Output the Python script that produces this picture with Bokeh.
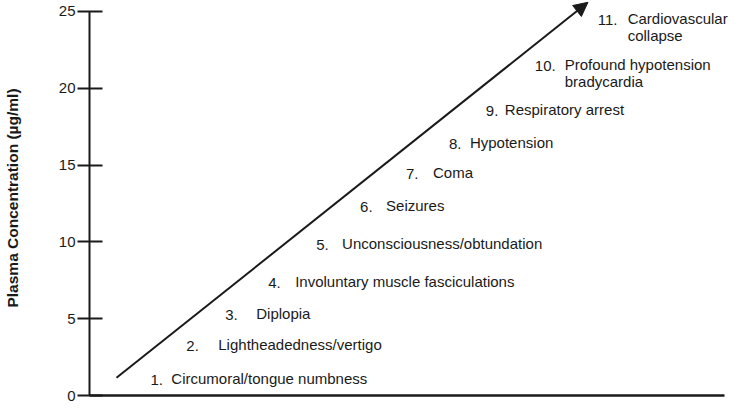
from bokeh.plotting import figure
from bokeh.models import Range1d, FixedTicker, Arrow, NormalHead, ColumnDataSource
from bokeh.core.properties import value
from bokeh.embed import file_html
from bokeh.resources import INLINE

# ---- data ----
y_ticks = [0, 5, 10, 15, 20, 25]
numbers = ["1.", "2.", "3.", "4.", "5.", "6.", "7.", "8.", "9.", "10.", "11."]
symptoms = [
    "Circumoral/tongue numbness",
    "Lightheadedness/vertigo",
    "Diplopia",
    "Involuntary muscle fasciculations",
    "Unconsciousness/obtundation",
    "Seizures",
    "Coma",
    "Hypotension",
    "Respiratory arrest",
    "Profound hypotension\nbradycardia",
    "Cardiovascular\ncollapse",
]
# plasma concentration (ug/ml) at which each label sits (first line)
concentration = [1.15, 3.38, 5.36, 7.46, 9.95, 12.37, 14.54, 16.52, 18.62, 21.56, 24.55]
# horizontal position of labels (arbitrary 0-100 scale)
number_x = [9.59, 15.25, 21.38, 28.14, 35.69, 42.61, 49.84, 56.60, 62.42, 70.13, 80.03]
name_x = [12.89, 20.28, 26.26, 32.39, 39.78, 46.70, 54.09, 59.91, 65.41, 74.84, 84.75]
# the rising arrow (start, tip)
arrow_x = [4.25, 78.5]
arrow_y = [1.15, 25.6]

FONT = "Liberation Sans"
INK = "#1a1a1a"

p = figure(width=736, height=404, output_backend="svg", toolbar_location=None,
           x_range=Range1d(0, 101.89), y_range=Range1d(0, 25.716),
           min_border_left=88, min_border_right=0, min_border_top=0, min_border_bottom=9)
p.grid.visible = False
p.outline_line_color = None
p.background_fill_color = "white"
p.border_fill_color = "white"

# y axis
ya = p.yaxis[0]
ya.ticker = FixedTicker(ticks=y_ticks)
ya.bounds = (0, 25)
ya.axis_line_width = 2
ya.axis_line_color = INK
ya.major_tick_line_width = 2
ya.major_tick_line_color = INK
ya.major_tick_in = 13
ya.major_tick_out = 12
ya.minor_tick_line_color = None
ya.major_label_standoff = 2
ya.major_label_text_font = FONT
ya.major_label_text_font_size = "15px"
ya.major_label_text_color = INK
ya.axis_label = "Plasma Concentration (\u00b5g/ml)"
ya.axis_label_text_font = FONT
ya.axis_label_text_font_size = "15.5px"
ya.axis_label_text_font_style = "bold"
ya.axis_label_text_color = INK
ya.axis_label_standoff = 35

# x axis: line only
xa = p.xaxis[0]
xa.ticker = FixedTicker(ticks=[])
xa.bounds = (0, 100)
xa.axis_line_width = 2.5
xa.axis_line_color = INK
xa.major_tick_in = 0
xa.major_tick_out = 0
xa.minor_tick_line_color = None
xa.major_label_text_font_size = "0px"
xa.major_label_standoff = 0

# arrow
p.add_layout(Arrow(end=NormalHead(size=14, fill_color=INK, line_color=INK, line_width=1),
                   x_start=arrow_x[0], y_start=arrow_y[0], x_end=arrow_x[1], y_end=arrow_y[1],
                   line_width=2, line_color=INK))

src = ColumnDataSource(dict(nx=number_x, tx=name_x, y=concentration, num=numbers, name=symptoms))
common = dict(source=src, text_font=value(FONT), text_font_size="15px", text_color=INK,
              text_align="left", text_line_height=1.0)
p.text(x="nx", y="y", text="num", text_baseline="middle", y_offset=2, **common)
p.text(x="tx", y="y", text="name", text_baseline="top", y_offset=-8, **common)

open("out.html", "w").write(file_html(p, INLINE))
